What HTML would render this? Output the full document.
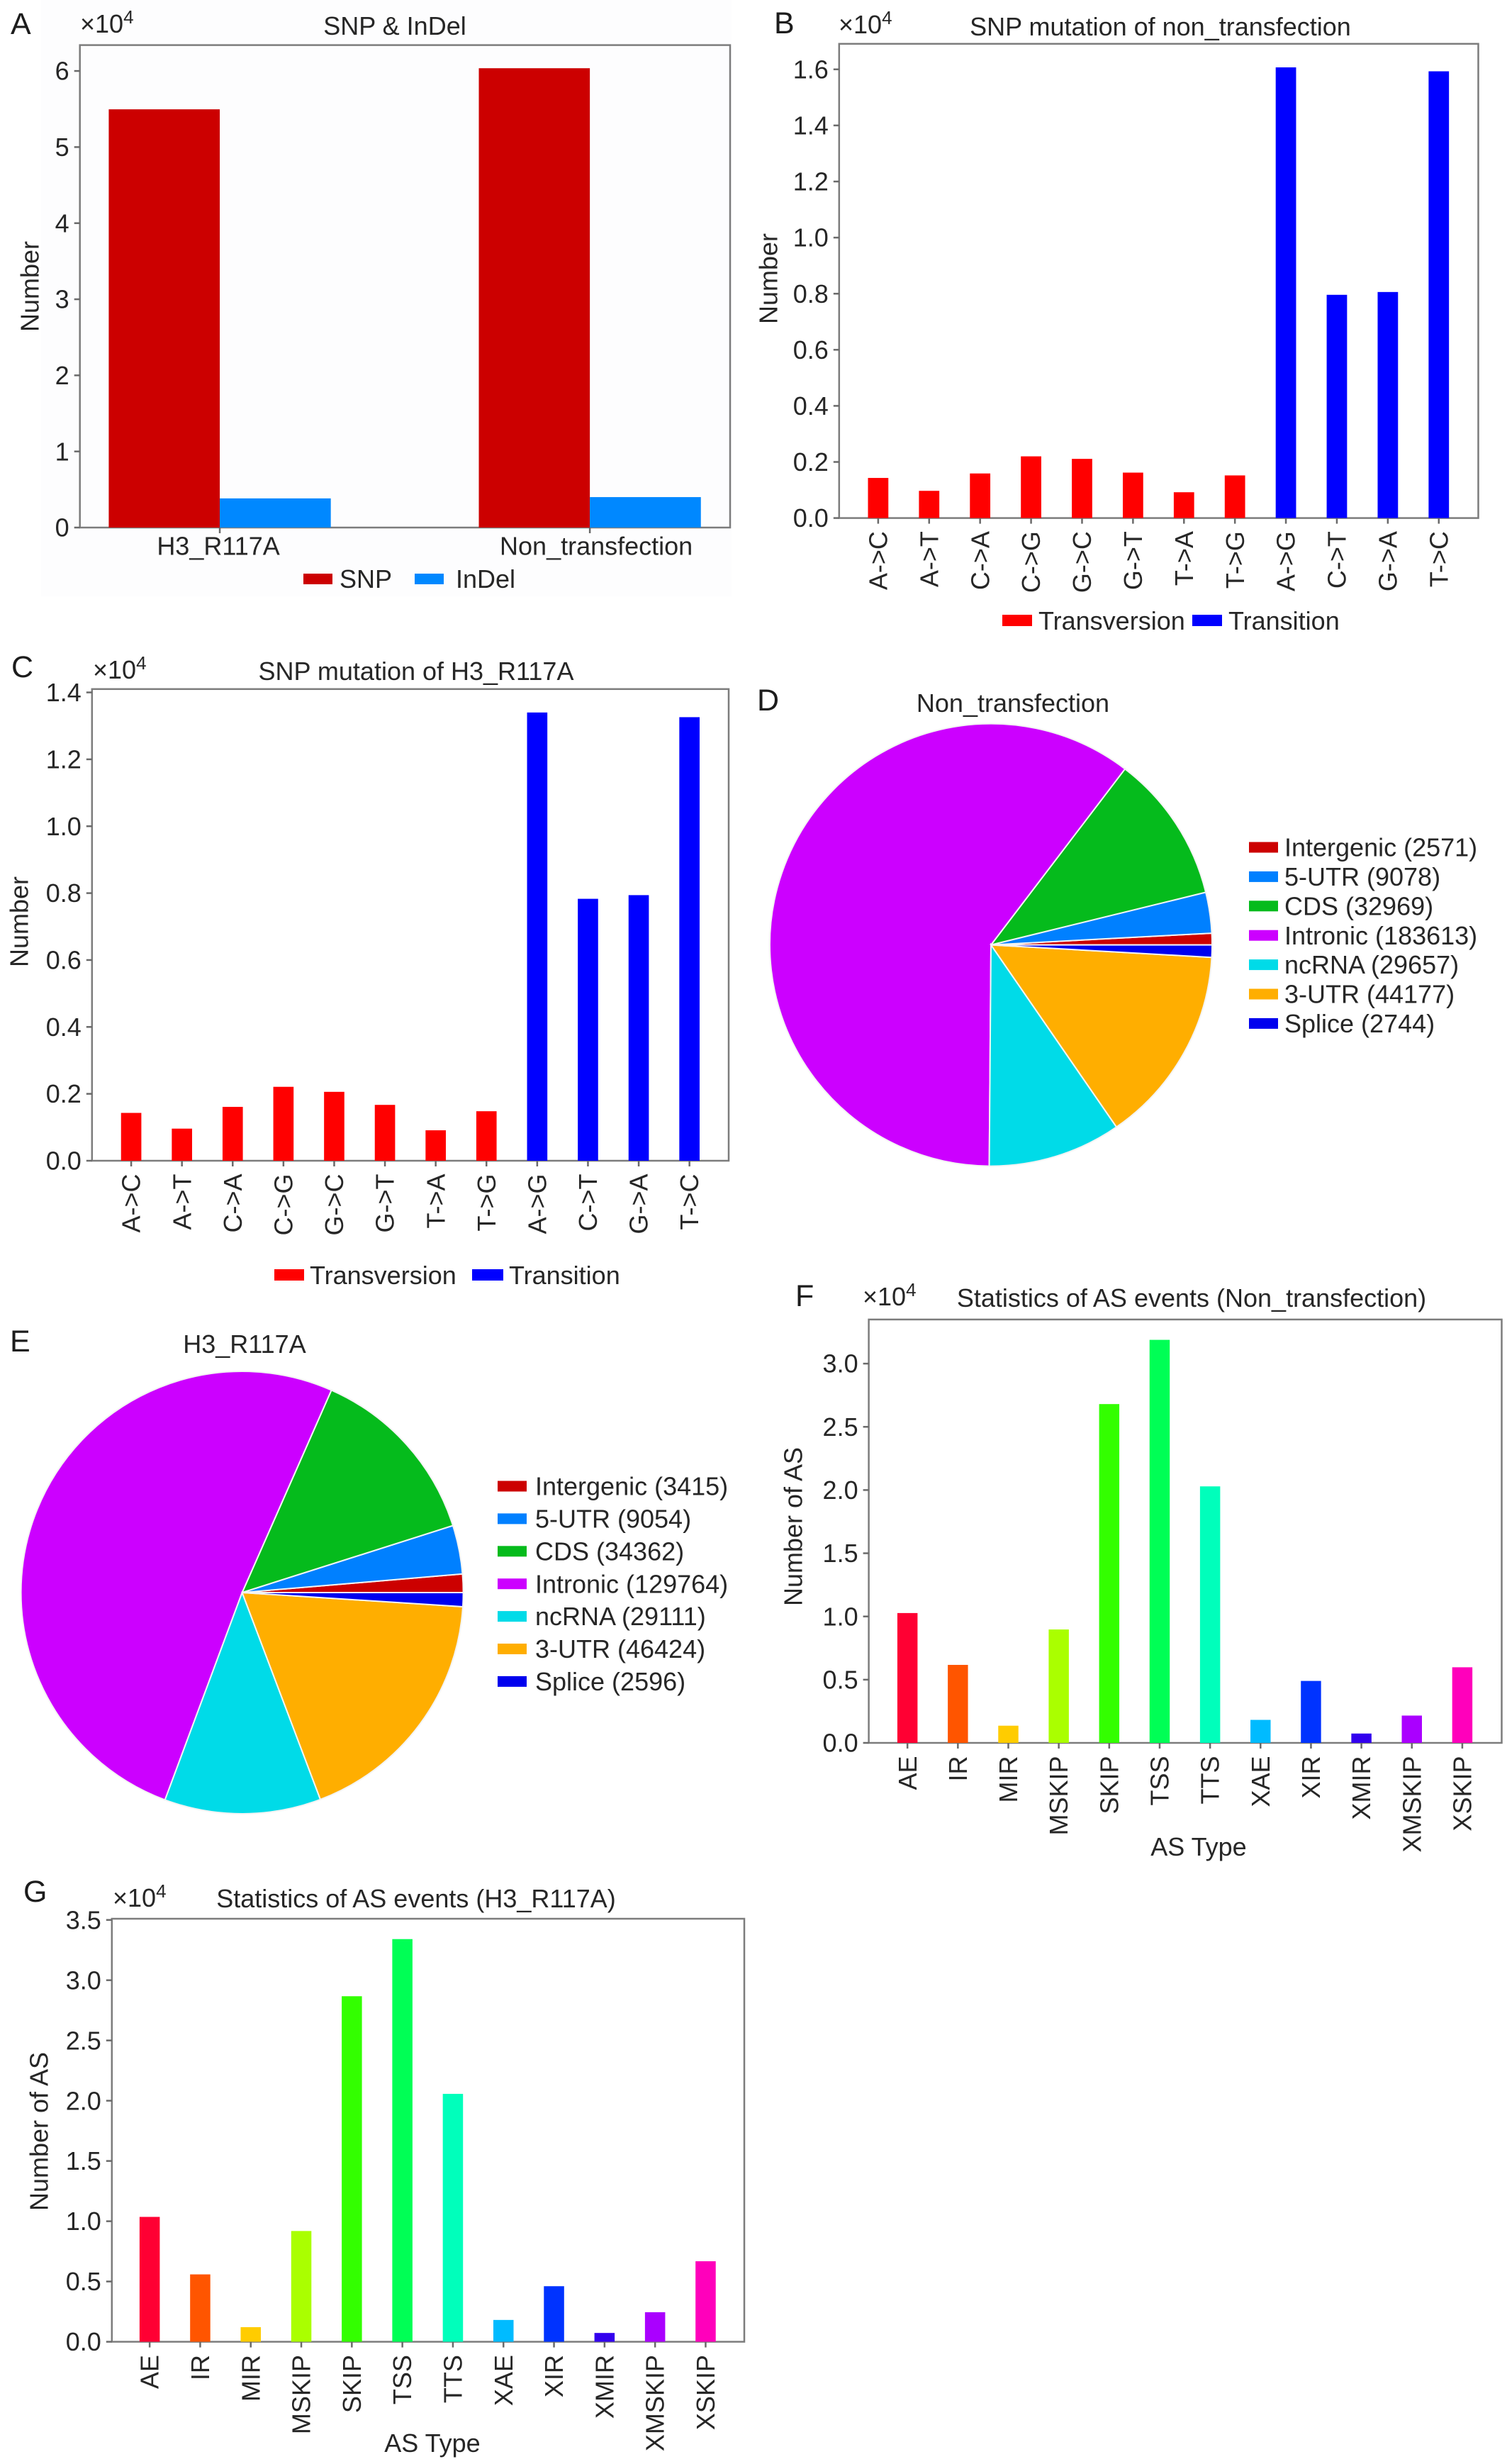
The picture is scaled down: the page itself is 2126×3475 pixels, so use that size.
<!DOCTYPE html>
<html lang="en">
<head>
<meta charset="utf-8">
<title>SNP, InDel and AS event statistics</title>
<style>
  html, body { margin: 0; padding: 0; background: #ffffff; }
  svg { display: block; }
  text { font-family: "Liberation Sans", Arial, sans-serif; fill: #262626; font-size: 36px; }
  .letter { font-size: 43px; fill: #1c1c1c; }
  .mid { text-anchor: middle; }
</style>
</head>
<body>
<svg id="figure" xmlns="http://www.w3.org/2000/svg" width="2126" height="3475" viewBox="0 0 2126 3475">
  <rect x="0" y="0" width="2126" height="3475" fill="#ffffff"/>
  <rect x="58" y="0" width="974" height="841" fill="#fdfdfe"/>

  <g id="panel-a">
    <text class="letter" x="15" y="48">A</text>
    <text class="mid" x="557" y="49">SNP &amp; InDel</text>
    <text x="113" y="46">×10<tspan font-size="26" dy="-13">4</tspan></text>
    <text class="mid" transform="translate(42 404) rotate(-90)" dy="0.35em">Number</text>
    <g>
      <rect x="428" y="809" width="41" height="15" fill="#cc0000"/>
      <text x="479" y="829">SNP</text>
      <rect x="585" y="809" width="41" height="15" fill="#0088ff"/>
      <text x="643" y="829">InDel</text>
    </g>
  </g>

  <g id="panel-b">
    <text class="letter" x="1092" y="47">B</text>
    <text class="mid" x="1637" y="50">SNP mutation of non_transfection</text>
    <text x="1183" y="47">×10<tspan font-size="26" dy="-13">4</tspan></text>
    <text class="mid" transform="translate(1084 393) rotate(-90)" dy="0.35em">Number</text>
    <g>
      <rect x="1414" y="867" width="42" height="16" fill="#ff0000"/>
      <text x="1465" y="888">Transversion</text>
      <rect x="1682" y="867" width="42" height="16" fill="#0000ff"/>
      <text x="1733" y="888">Transition</text>
    </g>
  </g>

  <g id="panel-c">
    <text class="letter" x="16" y="955">C</text>
    <text class="mid" x="587" y="959">SNP mutation of H3_R117A</text>
    <text x="131" y="957">×10<tspan font-size="26" dy="-13">4</tspan></text>
    <text class="mid" transform="translate(27 1300) rotate(-90)" dy="0.35em">Number</text>
    <g>
      <rect x="387" y="1790" width="42" height="16" fill="#ff0000"/>
      <text x="437" y="1811">Transversion</text>
      <rect x="666" y="1790" width="44" height="16" fill="#0000ff"/>
      <text x="718" y="1811">Transition</text>
    </g>
  </g>

  <g id="panel-d">
    <text class="letter" x="1068" y="1002">D</text>
    <text class="mid" x="1429" y="1004">Non_transfection</text>
  </g>

  <g id="panel-e">
    <text class="letter" x="14" y="1906">E</text>
    <text class="mid" x="345" y="1908">H3_R117A</text>
  </g>

  <g id="panel-f">
    <text class="letter" x="1122" y="1842">F</text>
    <text class="mid" x="1681" y="1843">Statistics of AS events (Non_transfection)</text>
    <text x="1217" y="1841">×10<tspan font-size="26" dy="-13">4</tspan></text>
    <text class="mid" transform="translate(1119 2153) rotate(-90)" dy="0.35em">Number of AS</text>
    <text class="mid" x="1691" y="2617">AS Type</text>
  </g>

  <g id="panel-g">
    <text class="letter" x="33" y="2682">G</text>
    <text class="mid" x="587" y="2690">Statistics of AS events (H3_R117A)</text>
    <text x="159" y="2689">×10<tspan font-size="26" dy="-13">4</tspan></text>
    <text class="mid" transform="translate(55 3006) rotate(-90)" dy="0.35em">Number of AS</text>
    <text class="mid" x="610" y="3458">AS Type</text>
  </g>
</svg>

<script>
// ---------- Panel A data ----------
const groupLabels = ['H3_R117A', 'Non_transfection'];
const snpValues = [5.496, 6.036];
const indelValues = [0.383, 0.400];
const ticksA = ['0', '1', '2', '3', '4', '5', '6'];

// ---------- Panels B and C data ----------
const mutationTypes = ['A->C', 'A->T', 'C->A', 'C->G', 'G->C', 'G->T', 'T->A', 'T->G', 'A->G', 'C->T', 'G->A', 'T->C'];
const mutationClasses = ['Transversion', 'Transversion', 'Transversion', 'Transversion', 'Transversion', 'Transversion', 'Transversion', 'Transversion', 'Transition', 'Transition', 'Transition', 'Transition'];
const nonTransfectionSnp = [0.143, 0.097, 0.159, 0.220, 0.211, 0.162, 0.092, 0.152, 1.607, 0.796, 0.806, 1.593];
const h3SnpValues = [0.143, 0.096, 0.161, 0.221, 0.206, 0.167, 0.091, 0.148, 1.340, 0.783, 0.794, 1.326];
const ticksB = ['0.0', '0.2', '0.4', '0.6', '0.8', '1.0', '1.2', '1.4', '1.6'];
const ticksC = ['0.0', '0.2', '0.4', '0.6', '0.8', '1.0', '1.2', '1.4'];

// ---------- Pie data ----------
const regionNames = ['Intergenic', '5-UTR', 'CDS', 'Intronic', 'ncRNA', '3-UTR', 'Splice'];
const regionColors = ['#cc0000', '#0080ff', '#05bb1c', '#cc00ff', '#00dbe8', '#ffae00', '#0000ee'];
const nonTransfectionRegions = [2571, 9078, 32969, 183613, 29657, 44177, 2744];
const h3Regions = [3415, 9054, 34362, 129764, 29111, 46424, 2596];

// ---------- Panels F and G data ----------
const asTypes = ['AE', 'IR', 'MIR', 'MSKIP', 'SKIP', 'TSS', 'TTS', 'XAE', 'XIR', 'XMIR', 'XMSKIP', 'XSKIP'];
const asColors = ['#ff0033', '#ff5500', '#ffcc00', '#aaff00', '#33ff00', '#00ff55', '#00ffbb', '#00bbff', '#0033ff', '#3300ee', '#aa00ff', '#ff00bb'];
const asNonTransfection = [1.027, 0.617, 0.136, 0.897, 2.680, 3.188, 2.029, 0.182, 0.490, 0.074, 0.216, 0.598];
const asH3 = [1.036, 0.559, 0.121, 0.919, 2.867, 3.341, 2.057, 0.181, 0.461, 0.073, 0.245, 0.668];
const ticksF = ['0.0', '0.5', '1.0', '1.5', '2.0', '2.5', '3.0'];
const ticksG = ['0.0', '0.5', '1.0', '1.5', '2.0', '2.5', '3.0', '3.5'];

const SVG_NS = 'http://www.w3.org/2000/svg';

function mk(tag, attrs, parent) {
  const el = document.createElementNS(SVG_NS, tag);
  for (const k in attrs) el.setAttribute(k, attrs[k]);
  parent.appendChild(el);
  return el;
}

function linear(d0, d1, r0, r1) {
  return function (v) { return r0 + (v - d0) * (r1 - r0) / (d1 - d0); };
}

// Draws the frame, y axis with ticks and returns the scales of the plot.
function drawAxes(panelId, rect, xDomain, yMax, tickLabels) {
  const panel = document.getElementById(panelId);
  const x = linear(xDomain[0], xDomain[1], rect.left, rect.right);
  const y = linear(0, yMax, rect.bottom, rect.top);

  const frame = mk('rect', { x: rect.left, y: rect.top, width: rect.right - rect.left, height: rect.bottom - rect.top, fill: 'none', stroke: '#7c7c7c', 'stroke-width': 2.5 }, panel);
  
  

  tickLabels.forEach(function (label) {
    const v = parseFloat(label);
    const tick = mk('line', { x1: rect.left - 8, x2: rect.left, y1: y(v), y2: y(v), stroke: '#6a6a6a', 'stroke-width': 2.5 }, panel);
    
    
    const text = mk('text', { x: rect.left - 15, y: y(v), dy: '0.35em', 'text-anchor': 'end' }, panel);
    
    
    text.textContent = label;
  });
  return { x: x, y: y, panel: panel, rect: rect };
}

function drawBar(axes, xCenter, width, value, color, name) {
  const top = axes.y(value);
  const bar = mk('rect', { x: axes.x(xCenter - width / 2), width: axes.x(xCenter + width / 2) - axes.x(xCenter - width / 2), y: top, height: axes.rect.bottom - top, fill: color }, axes.panel);
  
  
}

function drawCategoryAxis(axes, labels) {
  labels.forEach(function (label, i) {
    const px = axes.x(i);
    const tick = mk('line', { x1: px, x2: px, y1: axes.rect.bottom, y2: axes.rect.bottom + 8, stroke: '#6a6a6a', 'stroke-width': 2.5 }, axes.panel);
    
    
    const text = mk('text', { x: px, y: axes.rect.bottom + 18.5, dy: '0.35em', 'text-anchor': 'end', transform: 'rotate(-90 ' + px + ' ' + (axes.rect.bottom + 18.5) + ')' }, axes.panel);
    
    
    text.textContent = label;
  });
}

// Panel A: grouped bars
(function () {
  const axes = drawAxes('panel-a', { left: 112.7, right: 1030, top: 63.6, bottom: 744 }, [-0.378, 1.379], 6.34, ticksA);
  const barWidth = 0.3;
  groupLabels.forEach(function (label, i) {
    drawBar(axes, i - barWidth / 2, barWidth, snpValues[i], '#cc0000', 'bar-snp-' + label);
    drawBar(axes, i + barWidth / 2, barWidth, indelValues[i], '#0088ff', 'bar-indel-' + label);
    const px = axes.x(i);
    const tick = mk('line', { x1: px, x2: px, y1: axes.rect.bottom, y2: axes.rect.bottom + 8, stroke: '#6a6a6a', 'stroke-width': 2.5 }, axes.panel);
    
    
    const text = mk('text', { x: px + (i === 0 ? -2 : 9), y: axes.rect.bottom + 26, dy: '0.35em', 'text-anchor': 'middle' }, axes.panel);
    
    
    text.textContent = label;
  });
})();

// Panels B and C: SNP mutation bars
function drawMutationPanel(panelId, rect, xDomain, yMax, ticks, values) {
  const axes = drawAxes(panelId, rect, xDomain, yMax, ticks);
  mutationTypes.forEach(function (label, i) {
    drawBar(axes, i, 0.4, values[i], mutationClasses[i] === 'Transition' ? '#0000ff' : '#ff0000', 'bar-' + label);
  });
  drawCategoryAxis(axes, mutationTypes);
}
drawMutationPanel('panel-b', { left: 1183.8, right: 2085.5, top: 61.8, bottom: 730.6 }, [-0.766, 11.775], 1.691, ticksB, nonTransfectionSnp);
drawMutationPanel('panel-c', { left: 129.8, right: 1028, top: 971.8, bottom: 1637 }, [-0.772, 11.773], 1.41, ticksC, h3SnpValues);

// Panels F and G: AS event bars
function drawAsPanel(panelId, rect, xDomain, yMax, ticks, values) {
  const axes = drawAxes(panelId, rect, xDomain, yMax, ticks);
  asTypes.forEach(function (label, i) {
    drawBar(axes, i, 0.4, values[i], asColors[i], 'bar-' + label);
  });
  drawCategoryAxis(axes, asTypes);
}
drawAsPanel('panel-f', { left: 1225.6, right: 2118.5, top: 1860.9, bottom: 2458 }, [-0.767, 11.781], 3.349, ticksF, asNonTransfection);
drawAsPanel('panel-g', { left: 157.8, right: 1050, top: 2706, bottom: 3302.6 }, [-0.748, 11.765], 3.51, ticksG, asH3);

// Panels D and E: pies, counter-clockwise from 3 o'clock
function drawPie(panelId, cx, cy, r, values, legend) {
  const panel = document.getElementById(panelId);
  const total = values.reduce(function (a, b) { return a + b; }, 0);
  let cum = 0;
  values.forEach(function (value, i) {
    const a0 = cum / total * 2 * Math.PI;
    cum += value;
    const a1 = cum / total * 2 * Math.PI;
    const large = a1 - a0 > Math.PI ? 1 : 0;
    const d = 'M' + cx + ' ' + cy +
      'L' + (cx + r * Math.cos(a0)) + ' ' + (cy - r * Math.sin(a0)) +
      'A' + r + ' ' + r + ' 0 ' + large + ' 0 ' + (cx + r * Math.cos(a1)) + ' ' + (cy - r * Math.sin(a1)) + 'Z';
    const slice = mk('path', { d: d, fill: regionColors[i], stroke: '#f4f4f4', 'stroke-width': 2 }, panel);
    
    

    const rowY = legend.y + legend.step * i;
    const swatch = mk('rect', { x: legend.x, y: rowY - 7.5, width: 41, height: 15, fill: regionColors[i] }, panel);
    
    
    const text = mk('text', { x: legend.textX, y: rowY, dy: '0.35em' }, panel);
    
    
    text.textContent = regionNames[i] + ' (' + value + ')';
  });
}
drawPie('panel-d', 1398, 1332.6, 312, nonTransfectionRegions, { x: 1762, textX: 1812, y: 1195, step: 41.4 });
drawPie('panel-e', 341.6, 2246, 312, h3Regions, { x: 702, textX: 755, y: 2096, step: 45.9 });
</script>
</body>
</html>
